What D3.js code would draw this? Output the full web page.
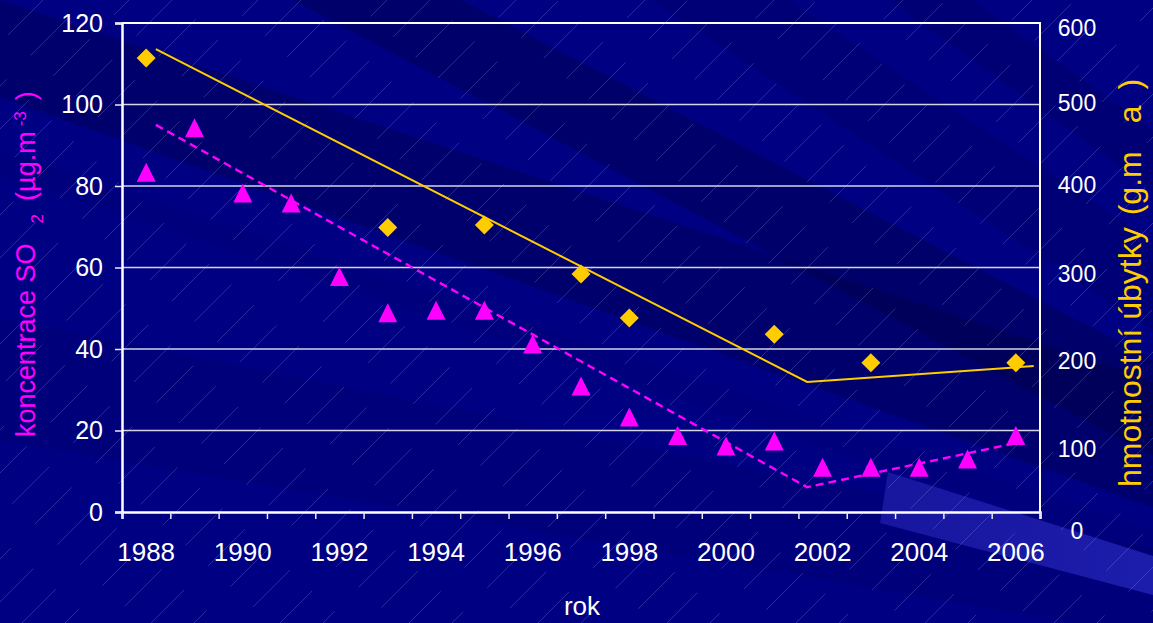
<!DOCTYPE html>
<html>
<head>
<meta charset="utf-8">
<script src="https://cdn.jsdelivr.net/npm/d3@7"></script>
<style>
  html, body { margin: 0; padding: 0; background: #000080; }
  svg { display: block; }
  text { font-family: "Liberation Sans", Arial, sans-serif; }
</style>
</head>
<body>
<svg id="chart" width="1153" height="623"></svg>
<script>
// Years on the category axis
const years = d3.range(1988, 2007);
const yearLabels = [1988, 1990, 1992, 1994, 1996, 1998, 2000, 2002, 2004, 2006];

// SO2 concentration (µg.m-3), one value per year
const so2 = [83.4, 94.3, 78.3, 75.8, 57.8, 48.9, 49.5, 49.5, 41.2, 30.9,
             23.3, 18.8, 16.2, 17.4, 11.0, 11.0, 11.0, 13.0, 18.8];

// Mass loss (g.m-2 a-1), measured years only
const lossYears = [1988, 1993, 1995, 1997, 1998, 2001, 2003, 2006];
const loss = [557, 349, 352, 292, 238, 218, 183, 183];

// Piecewise trend lines: [year, value]
const so2Trend = [[1988.2, 95.0], [2001.68, 6.1], [2006.0, 16.9]];
const lossTrend = [[1988.2, 568], [2001.68, 159.5], [2006.37, 179]];

// Axis ticks
const leftTicks = [0, 20, 40, 60, 80, 100, 120];
const rightTicks = [0, 100, 200, 300, 400, 500, 600];

const W = 1153, H = 623;
const M = { left: 122, right: 1040, top: 23, bottom: 512 };

const svg = d3.select("#chart");

// ---------- slide background ----------
const bg = svg.append("g");
bg.append("rect").attr("width", W).attr("height", H).attr("fill", "#000082");

// diagonal shading bands, each given by its upper and lower edge (y = a + b*x)
const band = (up, lo) => {
  const yu = x => up[0] + up[1] * x, yl = x => lo[0] + lo[1] * x;
  return `M0,${yu(0)}L${W},${yu(W)}L${W},${yl(W)}L0,${yl(0)}Z`;
};
const shades = [
  { d: band([-240, 0.52], [-155, 0.53]), o: 0.24 },
  { d: band([0, 0.33], [97, 0.356]), o: 0.22 },
  { d: band([150, 0.33], [175, 0.33]), o: 0.06 },
  { d: band([318, 0.2], [440, 0.17]), o: 0.08 },
  { d: band([-520, 0.66], [-430, 0.66]), o: 0.12 },
  { d: band([-700, 0.72], [-640, 0.72]), o: 0.14 }
];
bg.selectAll("path.shade").data(shades).join("path")
  .attr("class", "shade")
  .attr("d", d => d.d)
  .attr("fill", "#000020").attr("fill-opacity", d => d.o);

// lighter ribbon near the lower right
const grad = svg.append("defs").append("linearGradient")
  .attr("id", "ribbon").attr("x1", "0").attr("x2", "1").attr("y1", "0").attr("y2", "0");
grad.append("stop").attr("offset", "0").attr("stop-color", "#16169e");
grad.append("stop").attr("offset", "1").attr("stop-color", "#1d1dac");
bg.append("path")
  .attr("d", "M888,472L1153,556L1153,595L880,523Z")
  .attr("fill", "url(#ribbon)");

// thin dashed diagonal hatching
const hatch = bg.append("g")
  .attr("stroke", "#9090e8").attr("stroke-opacity", 0.38)
  .attr("stroke-width", 0.8).attr("fill", "none");
d3.range(-600, W + H, 43).forEach((c, i) => {
  hatch.append("line")
    .attr("x1", c).attr("y1", H + 20)
    .attr("x2", c + H + 20).attr("y2", 0)
    .attr("stroke-dasharray", "52 34")
    .attr("stroke-dashoffset", (i * 29) % 86);
});

// ---------- scales ----------
const x = d3.scaleBand().domain(years).range([M.left, M.right]);
const xYear = d3.scaleLinear().domain([1987.5, 2006.5]).range([M.left, M.right]);
const yL = d3.scaleLinear().domain([0, 120]).range([M.bottom, M.top]);
const yR = d3.scaleLinear().domain([0, 600]).range([M.bottom, M.top]);
// tick labels on the right sit in their own hand-set column
const yRLabel = d3.scaleLinear()
  .domain(rightTicks)
  .range([531, 449.5, 361.6, 274, 184.8, 103.4, 28.3]);

// ---------- gridlines ----------
svg.append("g").selectAll("line").data(leftTicks.filter(v => v > 0 && v < 120)).join("line")
  .attr("x1", M.left).attr("x2", M.right)
  .attr("y1", d => yL(d)).attr("y2", d => yL(d))
  .attr("stroke", "#d4d4e4").attr("stroke-width", 1.3);

// frame top and right
svg.append("path")
  .attr("d", `M${M.left},${M.top}H${M.right}V${M.bottom}`)
  .attr("fill", "none").attr("stroke", "#ffffff").attr("stroke-width", 2);

// ---------- axes ----------
const gL = svg.append("g").attr("transform", `translate(${M.left},0)`)
  .call(d3.axisLeft(yL).tickValues(leftTicks).tickSize(7).tickPadding(12));
gL.selectAll("text").attr("font-size", 25).attr("fill", "#ffffff")
  .style("font-family", "'Liberation Sans', Arial, sans-serif");

const gB = svg.append("g").attr("transform", `translate(0,${M.bottom})`)
  .call(d3.axisBottom(xYear).tickValues(d3.range(1987.5, 2007, 1)).tickSize(7).tickFormat(""));
const gBL = svg.append("g").attr("transform", `translate(0,${M.bottom})`)
  .call(d3.axisBottom(x).tickValues(yearLabels).tickSize(0).tickPadding(31));
gBL.select(".domain").remove();
gBL.selectAll("text").attr("font-size", 26).attr("fill", "#ffffff")
  .style("font-family", "'Liberation Sans', Arial, sans-serif");

[gL, gB].forEach(g => {
  g.select(".domain").attr("stroke", "#ffffff").attr("stroke-width", 2.5);
  g.selectAll(".tick line").attr("stroke", "#e8e8f4").attr("stroke-width", 1.5);
});

const gR = svg.append("g").attr("transform", "translate(1077,0)")
  .call(d3.axisRight(yRLabel).tickValues(rightTicks).tickSize(0).tickPadding(0));
gR.select(".domain").remove();
gR.selectAll("text").attr("font-size", 23).attr("fill", "#ffffff")
  .attr("text-anchor", "middle")
  .style("font-family", "'Liberation Sans', Arial, sans-serif");

// ---------- axis titles ----------
svg.append("text").attr("x", 582).attr("y", 615)
  .attr("text-anchor", "middle").attr("font-size", 26).attr("fill", "#ffffff").text("rok");

const tL = svg.append("text")
  .attr("transform", "translate(35,437) rotate(-90)")
  .attr("font-size", 27).attr("fill", "#ff00ff");
tL.append("tspan").text("koncentrace SO");
tL.append("tspan").attr("dx", 20).attr("dy", 8).attr("font-size", 17).text("2");
tL.append("tspan").attr("dx", 13).attr("dy", -8).text("(µg.m");
tL.append("tspan").attr("dx", 5).attr("dy", -9).attr("font-size", 17).text("-3");
tL.append("tspan").attr("dx", 11).attr("dy", 9).text(")");

const tR = svg.append("text")
  .attr("transform", "translate(1141,487) rotate(-90)")
  .attr("font-size", 32).attr("fill", "#ffcc00");
tR.append("tspan").text("hmotnostní úbytky");
tR.append("tspan").attr("dx", 12).text("(g.m");
tR.append("tspan").attr("dx", 28).text("a");
tR.append("tspan").attr("dx", 16).text(")");

// ---------- trend lines ----------
svg.append("path")
  .attr("d", d3.line().x(d => xYear(d[0])).y(d => yR(d[1]))(lossTrend))
  .attr("fill", "none").attr("stroke", "#ffcc00").attr("stroke-width", 2);

svg.append("path")
  .attr("d", d3.line().x(d => xYear(d[0])).y(d => yL(d[1]))(so2Trend))
  .attr("fill", "none").attr("stroke", "#ff00ff").attr("stroke-width", 2.4)
  .attr("stroke-dasharray", "8 5");

// ---------- markers ----------
const cx = yr => x(yr) + x.bandwidth() / 2;

svg.append("g").selectAll("path").data(years.map((yr, i) => [yr, so2[i]])).join("path")
  .attr("transform", d => `translate(${cx(d[0])},${yL(d[1])})`)
  .attr("d", "M0,-9.5L9.5,9.5L-9.5,9.5Z")
  .attr("fill", "#ff00ff");

svg.append("g").selectAll("path").data(lossYears.map((yr, i) => [yr, loss[i]])).join("path")
  .attr("transform", d => `translate(${cx(d[0])},${yR(d[1])})`)
  .attr("d", "M0,-9.5L9.5,0L0,9.5L-9.5,0Z")
  .attr("fill", "#ffcc00");
</script>
</body>
</html>
